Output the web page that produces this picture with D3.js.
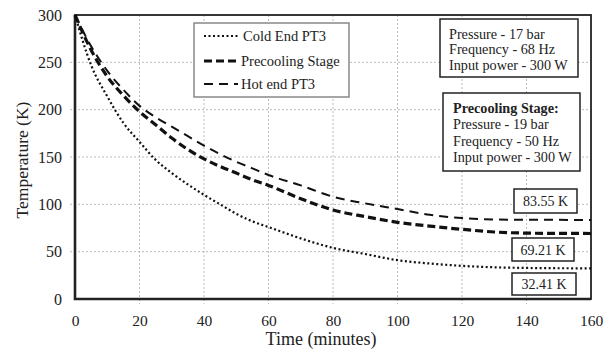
<!DOCTYPE html>
<html><head><meta charset="utf-8">
<script src="https://cdn.jsdelivr.net/npm/d3@7"></script>
<style>body{margin:0;background:#fff}svg{display:block}</style>
</head><body><svg id="c" width="610" height="352" style="font-family:'Liberation Serif','DejaVu Serif',serif"></svg>
<script>
const time      = [0,5,10,15,20,25,30,35,40,45,50,55,60,70,80,90,100,110,120,130,140,150,160];
const coldEnd   = [300,247,214,186,166,147,133,121,110,100,90,82,76,64,54,47.5,41,37.5,35,33.5,32.8,32.5,32.41];
const precool   = [300,263,235,215,198,184,170,158,148,140,133,126,120,106,94,87,81,77,73.6,70.8,69.6,69.3,69.21];
const hotEnd    = [300,267,241,221,204,192,182,172,162,153,145,138,131,120,108,101,95,89,85.5,84,83.7,83.6,83.55];
const xTicks = [0,20,40,60,80,100,120,140,160];
const yTicks = [0,50,100,150,200,250,300];
const seriesNames = ["Cold End PT3","Precooling Stage","Hot end PT3"];
const finalLabels = ["83.55 K","69.21 K","32.41 K"];
const info1 = ["Pressure - 17 bar","Frequency - 68 Hz","Input power - 300 W"];
const info2 = ["Precooling Stage:","Pressure - 19 bar","Frequency - 50 Hz","Input power - 300 W"];

const FONT = "'Liberation Serif','DejaVu Serif',serif";
const svg = d3.select("#c");
const L=75,R=591,T=15,B=299;
const x = d3.scaleLinear().domain([0,160]).range([L,R]);
const y = d3.scaleLinear().domain([0,300]).range([B,T]);

// grid
svg.append("g").selectAll("line").data(xTicks.slice(1,-1)).join("line")
  .attr("x1",d=>x(d)).attr("x2",d=>x(d)).attr("y1",T).attr("y2",B+5)
  .attr("stroke","#bbb").attr("stroke-width",1).attr("stroke-dasharray","2,2");
svg.append("g").selectAll("line").data(yTicks.slice(1,-1)).join("line")
  .attr("x1",L-5).attr("x2",R).attr("y1",d=>y(d)).attr("y2",d=>y(d))
  .attr("stroke","#bbb").attr("stroke-width",1).attr("stroke-dasharray","2,2");

// axes labels
const xa = svg.append("g").attr("transform",`translate(0,${B})`)
  .call(d3.axisBottom(x).tickValues(xTicks).tickSize(0).tickPadding(16));
xa.attr("font-family",FONT).attr("font-size",15.5);
xa.select(".domain").remove();
xa.selectAll("text").attr("fill","#222");
const ya = svg.append("g").attr("transform",`translate(${L},0)`)
  .call(d3.axisLeft(y).tickValues(yTicks).tickSize(0).tickPadding(13));
ya.attr("font-family",FONT).attr("font-size",16);
ya.select(".domain").remove();
ya.selectAll("text").attr("fill","#222");

// frame
svg.append("rect").attr("x",L).attr("y",T).attr("width",R-L).attr("height",B-T)
  .attr("fill","none").attr("stroke","#222").attr("stroke-width",1.8);
svg.append("path").attr("d",`M${L},${T}V${B}H${R}`).attr("fill","none").attr("stroke","#222").attr("stroke-width",2.6);

const line = d3.line().x((d,i)=>x(time[i])).y(d=>y(d)).curve(d3.curveMonotoneX);
const styles = [
  {data:coldEnd, w:2.2, dash:"2,2.5"},
  {data:precool, w:3.2, dash:"8,4"},
  {data:hotEnd,  w:2, dash:"9,6"}
];
styles.forEach(s=>{
  svg.append("path").attr("d",line(s.data)).attr("fill","none")
    .attr("stroke","#111").attr("stroke-width",s.w).attr("stroke-dasharray",s.dash);
});

function txt(xp,yp,t,size,opts={}){
  return svg.append("text").attr("x",xp).attr("y",yp).attr("font-family",FONT)
    .attr("font-size",size).attr("fill","#222")
    .attr("text-anchor",opts.anchor||"start").attr("font-weight",opts.bold?"bold":"normal").text(t);
}

// legend
svg.append("rect").attr("x",194).attr("y",23).attr("width",155).attr("height",74)
  .attr("fill","#fff").attr("stroke","#888").attr("stroke-width",1.5);
const ly=[36,61,84];
seriesNames.forEach((n,i)=>{
  svg.append("line").attr("x1",204).attr("x2",238).attr("y1",ly[i]).attr("y2",ly[i])
    .attr("stroke","#111").attr("stroke-width",styles[i].w).attr("stroke-dasharray",styles[i].dash);
  txt(i===0?243:241, ly[i]+4.5, n, 14.5);
});

// info boxes
svg.append("rect").attr("x",440).attr("y",19).attr("width",138).attr("height",58)
  .attr("fill","#fff").attr("stroke","#222").attr("stroke-width",1.5);
info1.forEach((t,i)=>txt(449,38.5+i*15.7,t,14.2));
svg.append("rect").attr("x",443).attr("y",93).attr("width",137).attr("height",78)
  .attr("fill","#fff").attr("stroke","#222").attr("stroke-width",1.5);
info2.forEach((t,i)=>txt(453,113+i*16.3,t,14.2,{bold:i===0}));

// final value labels
const boxes=[[514,189,63,24],[512,238,62,23],[512,273,64,22]];
finalLabels.forEach((t,i)=>{
  const b=boxes[i];
  svg.append("rect").attr("x",b[0]).attr("y",b[1]).attr("width",b[2]).attr("height",b[3])
    .attr("fill","#fff").attr("stroke","#222").attr("stroke-width",1.5);
  txt(b[0]+b[2]/2, b[1]+b[3]/2+5, t, 14, {anchor:"middle"});
});

// axis titles
txt(321,345,"Time (minutes)",18,{anchor:"middle"});
svg.append("text").attr("transform","translate(28,160) rotate(-90)").attr("text-anchor","middle")
  .attr("font-family",FONT).attr("font-size",17.5).attr("fill","#222").text("Temperature (K)");
</script></body></html>
